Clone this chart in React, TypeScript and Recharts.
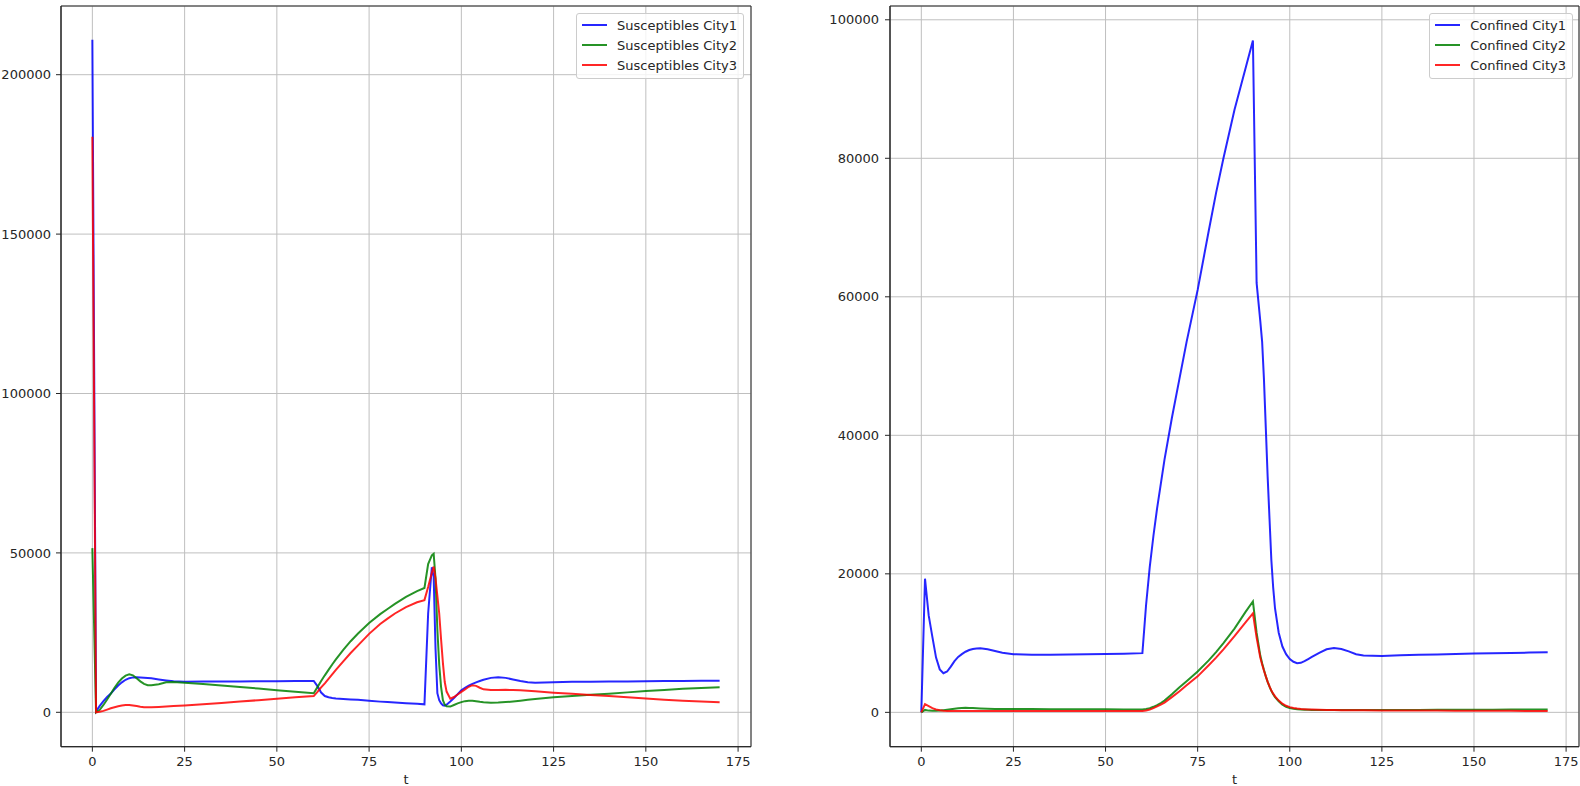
import React from 'react';
import { LineChart, Line, XAxis, YAxis, CartesianGrid, Legend, ReferenceArea } from 'recharts';

// Time grid (days) shared by all series
const T = [
  0, 1, 2, 3, 4, 5, 6, 7, 8, 9, 10, 11, 12, 13, 14, 15, 16, 18, 20, 22, 25,
  30, 35, 40, 45, 50, 55, 60, 61, 62, 63, 64, 65, 66, 68, 70, 72, 75, 78, 80,
  82, 85, 88, 90, 91, 92, 92.5, 93, 93.5, 94, 94.5, 95, 95.5, 96, 97, 98, 99,
  100, 101, 102, 103, 104, 105, 106, 108, 110, 112, 114, 116, 118, 120, 125,
  130, 135, 140, 145, 150, 155, 160, 165, 170,
];

// Susceptibles per city
const susCity1 = [
  211000, 300, 2000, 3500, 4800, 5900, 7200, 8400, 9400, 10200, 10700, 10950, 11000, 10950, 10850, 10750, 10650, 10300, 10000, 9750, 9600,
  9650, 9680, 9700, 9720, 9750, 9780, 9820, 8200, 6200, 5100, 4700, 4500, 4350, 4200, 4050, 3900, 3650, 3350, 3200,
  3050, 2850, 2650, 2500, 31000, 45500, 42500, 20000, 6000, 3800, 2800, 2200, 2100, 2400, 3400, 4500, 5700,
  6900, 7700, 8400, 8900, 9400, 9800, 10200, 10800, 11000, 10800, 10300, 9800, 9400, 9300, 9450,
  9550, 9600, 9650, 9700, 9750, 9800, 9850, 9900, 9920,
];
const susCity2 = [
  51500, 0, 800, 2300, 4000, 5800, 7700, 9300, 10600, 11500, 11900, 11600, 10700, 9700, 8900, 8500, 8450, 8800, 9400, 9500, 9300,
  8850, 8400, 7950, 7450, 6950, 6450, 6000, 7900, 9800, 11600, 13300, 15000, 16600, 19600, 22300, 24700, 28000, 30800, 32400,
  34000, 36200, 38000, 39000, 46500, 49200, 49700, 42000, 26000, 15000, 8000, 3800, 2400, 1900, 1800, 2300, 2800,
  3200, 3500, 3650, 3650, 3500, 3300, 3150, 3000, 3050, 3200, 3400, 3650, 3950, 4200, 4750,
  5150, 5500, 5850, 6250, 6650, 7000, 7350, 7600, 7850,
];
const susCity3 = [
  180500, 0, 150, 450, 850, 1250, 1600, 1900, 2150, 2300, 2300, 2150, 1950, 1750, 1600, 1550, 1550, 1650, 1800, 1950, 2150,
  2550, 2950, 3350, 3800, 4250, 4700, 5100, 6400, 7800, 9100, 10500, 11900, 13300, 16000, 18600, 21000, 24600, 27700, 29400,
  31000, 33000, 34500, 35200, 39300, 43800, 45700, 42000, 36500, 31000, 23000, 15500, 9500, 6500, 4300, 4800, 5600,
  6400, 7200, 8000, 8500, 8300, 7700, 7200, 7000, 7000, 7050, 7000, 6900, 6750, 6600, 6150,
  5800, 5450, 5100, 4700, 4300, 3950, 3650, 3400, 3130,
];

// Confined per city
const conCity1 = [
  0, 19300, 14000, 10900, 7900, 6200, 5650, 5900, 6600, 7400, 8000, 8400, 8750, 9000, 9150, 9230, 9250, 9100, 8850, 8600, 8400,
  8320, 8330, 8350, 8380, 8420, 8460, 8550, 15500, 21000, 25500, 29500, 33000, 36500, 42500, 48000, 53500, 61000, 69500, 75000,
  80000, 87000, 93000, 97000, 62000, 56500, 53500, 48000, 41000, 34000, 28000, 22000, 18000, 15000, 11500, 9500, 8400,
  7700, 7300, 7100, 7150, 7400, 7700, 8000, 8600, 9100, 9300, 9150, 8800, 8400, 8200, 8150,
  8250, 8300, 8350, 8420, 8480, 8530, 8580, 8630, 8680,
];
const conCity2 = [
  0, 350, 250, 220, 230, 270, 320, 380, 450, 520, 580, 630, 650, 640, 620, 590, 560, 520, 500, 490, 480,
  470, 460, 450, 440, 430, 425, 420, 480, 600, 800, 1050, 1350, 1700, 2600, 3600, 4500, 5900, 7500, 8700,
  10000, 12100, 14500, 16000, 11500, 8200, 7100, 6100, 5200, 4400, 3700, 3100, 2600, 2200, 1600, 1100, 800,
  620, 520, 450, 410, 380, 360, 350, 340, 335, 330, 330, 330, 330, 335, 340,
  350, 355, 360, 370, 380, 390, 400, 410, 420,
];
const conCity3 = [
  0, 1200, 900, 600, 420, 300, 230, 200, 190, 185, 180, 180, 180, 180, 180, 180, 180, 180, 180, 180, 182,
  184, 186, 188, 190, 193, 196, 200, 260, 400, 600, 850, 1100, 1400, 2200, 3000, 3900, 5200, 6800, 7900,
  9100, 11000, 13000, 14300, 10800, 7900, 6900, 6000, 5200, 4400, 3750, 3150, 2700, 2300, 1700, 1250, 950,
  750, 630, 550, 490, 450, 420, 400, 370, 350, 335, 320, 310, 300, 295, 280,
  270, 260, 250, 240, 230, 220, 215, 205, 200,
];

const X_TICKS = [0, 25, 50, 75, 100, 125, 150, 175];
const LEFT_Y_TICKS = [0, 50000, 100000, 150000, 200000];
const RIGHT_Y_TICKS = [0, 20000, 40000, 60000, 80000, 100000];

const X_DOMAIN: [number, number] = [-8.5, 178.5];
const LEFT_Y_DOMAIN: [number, number] = [-10790, 221550];
const RIGHT_Y_DOMAIN: [number, number] = [-4960, 101990];

const FONT = '"DejaVu Sans", Verdana, sans-serif';
const INK = '#262626';
const BLUE = '#0000ff';
const GREEN = '#008000';
const RED = '#ff0000';
const LINE_OPACITY = 0.85;

const leftRows = T.map((t, i) => ({
  t,
  s1: susCity1[i],
  s2: susCity2[i],
  s3: susCity3[i],
}));

const rightRows = T.map((t, i) => ({
  t,
  c1: conCity1[i],
  c2: conCity2[i],
  c3: conCity3[i],
}));

const tickStyle = { fill: INK, fontSize: 13, fontFamily: FONT };

const LegendBox = (props: any) => {
  const payload = props.payload || [];
  return (
    <div
      style={{
        background: 'rgba(255,255,255,0.8)',
        border: '1px solid #cccccc',
        borderRadius: 3,
        padding: '1px 6px 3px 5px',
        fontFamily: FONT,
        fontSize: 13,
        color: INK,
        whiteSpace: 'nowrap',
      }}
    >
      {payload.map((item: any) => (
        <div key={item.value} style={{ display: 'flex', alignItems: 'center', height: 20 }}>
          <span
            style={{
              display: 'inline-block',
              width: 25,
              height: 2,
              background: item.color,
              opacity: LINE_OPACITY,
              marginRight: 10,
            }}
          />
          <span>{item.value}</span>
        </div>
      ))}
    </div>
  );
};

type PanelProps = {
  rows: any[];
  keys: { key: string; name: string; color: string }[];
  width: number;
  yWidth: number;
  yTicks: number[];
  yDomain: [number, number];
  yTickMargin: number;
  marginRight: number;
  legendRight: number;
};

const Panel = ({ rows, keys, width, yWidth, yTicks, yDomain, yTickMargin, marginRight, legendRight }: PanelProps) => (
  <LineChart
    width={width}
    height={786}
    data={rows}
    margin={{ top: 6, right: marginRight, bottom: 0, left: 0 }}
  >
    <CartesianGrid stroke="#bfbfbf" strokeWidth={1} />
    <XAxis
      type="number"
      dataKey="t"
      domain={X_DOMAIN}
      ticks={X_TICKS}
      allowDataOverflow
      height={39.3}
      tickSize={5}
      tickMargin={5}
      tick={tickStyle}
      tickLine={{ stroke: INK }}
      axisLine={{ stroke: INK }}
      label={{ value: 't', position: 'insideBottom', offset: 2, fill: INK, fontSize: 13, fontFamily: FONT }}
    />
    <YAxis
      type="number"
      domain={yDomain}
      ticks={yTicks}
      allowDataOverflow
      width={yWidth}
      tickSize={5}
      tickMargin={yTickMargin}
      tick={tickStyle}
      tickLine={{ stroke: INK }}
      axisLine={{ stroke: INK }}
    />
    <ReferenceArea
      x1={X_DOMAIN[0]}
      x2={X_DOMAIN[1]}
      y1={yDomain[0]}
      y2={yDomain[1]}
      fill="none"
      fillOpacity={0}
      stroke={INK}
      strokeWidth={1}
      ifOverflow="visible"
    />
    {keys.map((k) => (
      <Line
        key={k.key}
        type="linear"
        dataKey={k.key}
        name={k.name}
        stroke={k.color}
        strokeOpacity={LINE_OPACITY}
        strokeWidth={2}
        dot={false}
        activeDot={false}
        isAnimationActive={false}
      />
    ))}
    <Legend
      layout="vertical"
      align="center"
      verticalAlign="middle"
      content={<LegendBox />}
      wrapperStyle={{ right: legendRight, top: 13, width: 'auto', height: 'auto' }}
    />
  </LineChart>
);

export default function App() {
  return (
    <div
      style={{
        position: 'absolute',
        left: 0,
        top: 0,
        width: 1580,
        height: 786,
        background: '#ffffff',
        fontFamily: FONT,
      }}
    >
      <div style={{ position: 'absolute', left: 0, top: 0 }}>
        <Panel
          rows={leftRows}
          keys={[
            { key: 's1', name: 'Susceptibles City1', color: BLUE },
            { key: 's2', name: 'Susceptibles City2', color: GREEN },
            { key: 's3', name: 'Susceptibles City3', color: RED },
          ]}
          width={760}
          yWidth={61}
          yTicks={LEFT_Y_TICKS}
          yDomain={LEFT_Y_DOMAIN}
          yTickMargin={5}
          marginRight={9}
          legendRight={16}
        />
      </div>
      <div style={{ position: 'absolute', left: 790, top: 0 }}>
        <Panel
          rows={rightRows}
          keys={[
            { key: 'c1', name: 'Confined City1', color: BLUE },
            { key: 'c2', name: 'Confined City2', color: GREEN },
            { key: 'c3', name: 'Confined City3', color: RED },
          ]}
          width={790}
          yWidth={100}
          yTicks={RIGHT_Y_TICKS}
          yDomain={RIGHT_Y_DOMAIN}
          yTickMargin={6}
          marginRight={1}
          legendRight={7}
        />
      </div>
    </div>
  );
}
